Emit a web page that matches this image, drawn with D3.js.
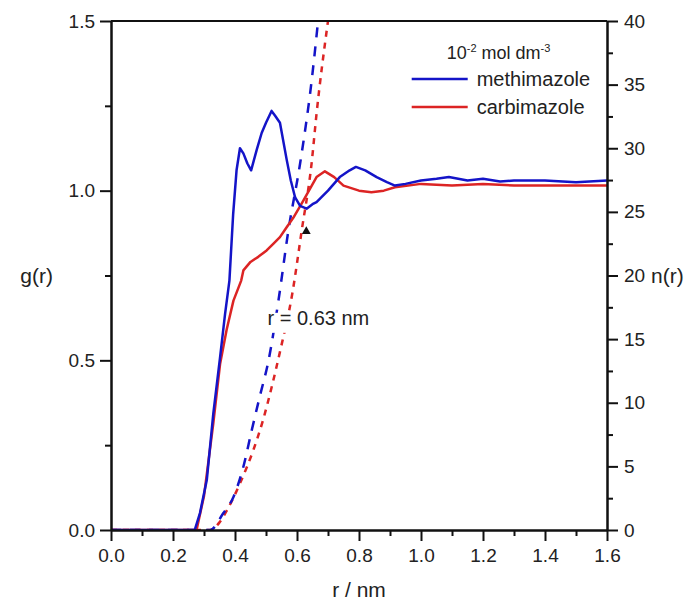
<!DOCTYPE html>
<html>
<head>
<meta charset="utf-8">
<script src="https://cdn.jsdelivr.net/npm/d3@7"></script>
<style>
  body { margin: 0; background: #fff; }
  svg text { font-family: "Liberation Sans", Arial, sans-serif; fill: #222; }
</style>
</head>
<body>
<div class="chart-area"></div>
<script>
// g(r) and n(r) for methimazole / carbimazole

// methimazole g(r) (blue, solid)
const methR = [0, 0.27, 0.287, 0.309, 0.33, 0.352, 0.368, 0.382, 0.394, 0.405, 0.416, 0.427, 0.44, 0.452, 0.47, 0.486, 0.50, 0.518, 0.53, 0.545, 0.567, 0.58, 0.594, 0.61, 0.631, 0.65, 0.663, 0.70, 0.738, 0.77, 0.79, 0.82, 0.857, 0.89, 0.916, 0.95, 1.0, 1.05, 1.09, 1.15, 1.2, 1.255, 1.3, 1.4, 1.5, 1.6];
const methG = [0, 0, 0.05, 0.147, 0.343, 0.51, 0.637, 0.735, 0.93, 1.06, 1.125, 1.11, 1.08, 1.06, 1.12, 1.17, 1.20, 1.235, 1.22, 1.20, 1.09, 1.03, 0.98, 0.955, 0.947, 0.96, 0.966, 1.0, 1.04, 1.06, 1.07, 1.06, 1.04, 1.025, 1.015, 1.02, 1.03, 1.035, 1.04, 1.03, 1.035, 1.027, 1.03, 1.03, 1.025, 1.03];

// carbimazole g(r) (red, solid)
const carbR = [0, 0.276, 0.30, 0.33, 0.352, 0.373, 0.395, 0.42, 0.427, 0.45, 0.475, 0.502, 0.525, 0.545, 0.565, 0.588, 0.62, 0.663, 0.69, 0.72, 0.75, 0.8, 0.84, 0.88, 0.916, 1.0, 1.1, 1.2, 1.3, 1.4, 1.5, 1.6];
const carbG = [0, 0, 0.1, 0.314, 0.49, 0.59, 0.676, 0.735, 0.765, 0.79, 0.805, 0.824, 0.845, 0.863, 0.89, 0.92, 0.97, 1.04, 1.057, 1.04, 1.015, 1.0, 0.995, 1.0, 1.01, 1.02, 1.015, 1.02, 1.015, 1.015, 1.015, 1.015];

// running coordination numbers n(r) (dashed)
const methNR = [0, 0.32, 0.362, 0.395, 0.427, 0.454, 0.48, 0.508, 0.54, 0.572, 0.61, 0.629, 0.642, 0.668];
const methN  = [0, 0, 1.31, 2.6, 4.97, 7.84, 10.5, 13.3, 18.0, 23.5, 28.8, 31.9, 34.25, 40];
const carbNR = [0, 0.32, 0.35, 0.373, 0.416, 0.459, 0.49, 0.518, 0.545, 0.585, 0.615, 0.647, 0.663, 0.70];
const carbN  = [0, 0, 0.6, 1.5, 3.66, 6.27, 8.6, 11.2, 14.0, 18.6, 23.5, 28.8, 32.7, 40];

// axis ticks
const xMajor = [0, 0.2, 0.4, 0.6, 0.8, 1.0, 1.2, 1.4, 1.6];
const xMinor = [0.1, 0.3, 0.5, 0.7, 0.9, 1.1, 1.3, 1.5];
const gMajor = [0, 0.5, 1.0, 1.5];
const gMinor = [0.25, 0.75, 1.25];
const nMajor = [0, 5, 10, 15, 20, 25, 30, 35, 40];
const nMinor = [2.5, 7.5, 12.5, 17.5, 22.5, 27.5, 32.5, 37.5];

const blue = "#1414c8", red = "#dc2424";

const margin = { top: 21, right: 92, bottom: 73, left: 111 },
    width = 699 - margin.left - margin.right,
    height = 603 - margin.top - margin.bottom;

const svg = d3.select(".chart-area")
    .append("svg")
    .attr("width", 699)
    .attr("height", 603)
    .append("g")
    .attr("transform", `translate(${margin.left},${margin.top})`);

const x = d3.scaleLinear().domain([0, 1.6]).range([0, width]);
const yG = d3.scaleLinear().domain([0, 1.5]).range([height, 0]);
const yN = d3.scaleLinear().domain([0, 40]).range([height, 0]);

// clip so the n(r) curves stop at the top frame
svg.append("clipPath").attr("id", "plot-clip")
    .append("rect").attr("width", width).attr("height", height);

const plot = svg.append("g").attr("clip-path", "url(#plot-clip)");

const lineG = d3.line().x(d => x(d[0])).y(d => yG(d[1]));
const lineN = d3.line().x(d => x(d[0])).y(d => yN(d[1])).curve(d3.curveMonotoneX);

const zip = (a, b) => a.map((v, i) => [v, b[i]]);

// dashed n(r)
plot.append("path").datum(zip(carbNR, carbN))
    .attr("d", lineN).attr("fill", "none")
    .attr("stroke", red).attr("stroke-width", 2.5).attr("stroke-dasharray", "6,6");
plot.append("path").datum(zip(methNR, methN))
    .attr("d", lineN).attr("fill", "none")
    .attr("stroke", blue).attr("stroke-width", 2.5).attr("stroke-dasharray", "10,9");

// annotation sits on a white box that hides the dashes under it
const ann = svg.append("g");
ann.append("rect").attr("x", x(0.5)).attr("y", yG(0.64)).attr("width", 106).attr("height", 20).attr("fill", "#fff");
ann.append("text").attr("x", x(0.505)).attr("y", yG(0.603))
    .style("font-size", "20px").text("r = 0.63 nm");

// solid g(r)
plot.append("path").datum(zip(carbR, carbG))
    .attr("d", lineG).attr("fill", "none")
    .attr("stroke", red).attr("stroke-width", 2.5).attr("stroke-linejoin", "round");
plot.append("path").datum(zip(methR, methG))
    .attr("d", lineG).attr("fill", "none")
    .attr("stroke", blue).attr("stroke-width", 2.5).attr("stroke-linejoin", "round");

// axes
const fs = "19px";
function styleAxis(g) {
    g.select(".domain").attr("stroke", "#111").attr("stroke-width", 2);
    g.selectAll(".tick line").attr("stroke", "#111").attr("stroke-width", 2);
    g.selectAll(".tick text").style("font-size", fs).attr("fill", "#222");
}

svg.append("g").attr("transform", `translate(0,${height})`)
    .call(d3.axisBottom(x).tickValues(xMinor).tickSize(6).tickFormat("").tickSizeOuter(0))
    .call(styleAxis);
svg.append("g").attr("transform", `translate(0,${height})`)
    .call(d3.axisBottom(x).tickValues(xMajor).tickSize(11).tickPadding(8).tickFormat(d3.format(".1f")).tickSizeOuter(0))
    .call(styleAxis);

svg.append("g")
    .call(d3.axisLeft(yG).tickValues(gMinor).tickSize(6).tickFormat("").tickSizeOuter(0))
    .call(styleAxis);
svg.append("g")
    .call(d3.axisLeft(yG).tickValues(gMajor).tickSize(11).tickPadding(5).tickFormat(d3.format(".1f")).tickSizeOuter(0))
    .call(styleAxis);

svg.append("g").attr("transform", `translate(${width},0)`)
    .call(d3.axisRight(yN).tickValues(nMinor).tickSize(6).tickFormat("").tickSizeOuter(0))
    .call(styleAxis);
svg.append("g").attr("transform", `translate(${width},0)`)
    .call(d3.axisRight(yN).tickValues(nMajor).tickSize(11).tickPadding(6).tickFormat(d3.format("d")).tickSizeOuter(0))
    .call(styleAxis);

// top frame
svg.append("line").attr("x1", 0).attr("x2", width).attr("y1", 0).attr("y2", 0)
    .attr("stroke", "#111").attr("stroke-width", 2);

// axis titles
svg.append("text").attr("x", width / 2).attr("y", height + 67)
    .attr("text-anchor", "middle").style("font-size", "21px").text("r / nm");
svg.append("text").attr("x", -58).attr("y", yG(0.75) + 7)
    .attr("text-anchor", "end").style("font-size", "21px").text("g(r)");
svg.append("text").attr("x", width + 44).attr("y", yN(20) + 7)
    .style("font-size", "21px").text("n(r)");

// marker
svg.append("path")
    .attr("d", d3.symbol(d3.symbolTriangle, 34))
    .attr("transform", `translate(${x(0.63)},${yG(0.88)})`)
    .attr("fill", "#111");

// legend
const legend = svg.append("g").attr("transform", `translate(${x(0.97)}, 0)`);
const head = legend.append("text").attr("x", 35).attr("y", 38).style("font-size", "18px");
head.append("tspan").text("10");
head.append("tspan").attr("dy", -7).style("font-size", "11px").text("-2");
head.append("tspan").attr("dy", 7).text(" mol dm");
head.append("tspan").attr("dy", -7).style("font-size", "11px").text("-3");

[["methimazole", blue], ["carbimazole", red]].forEach(([name, c], i) => {
    const g = legend.append("g").attr("transform", `translate(0, ${58 + i * 28})`);
    g.append("line").attr("x1", 0).attr("x2", 56).attr("stroke", c).attr("stroke-width", 2.5);
    g.append("text").attr("x", 65).attr("y", 7).style("font-size", "20px").text(name);
});
</script>
</body>
</html>
